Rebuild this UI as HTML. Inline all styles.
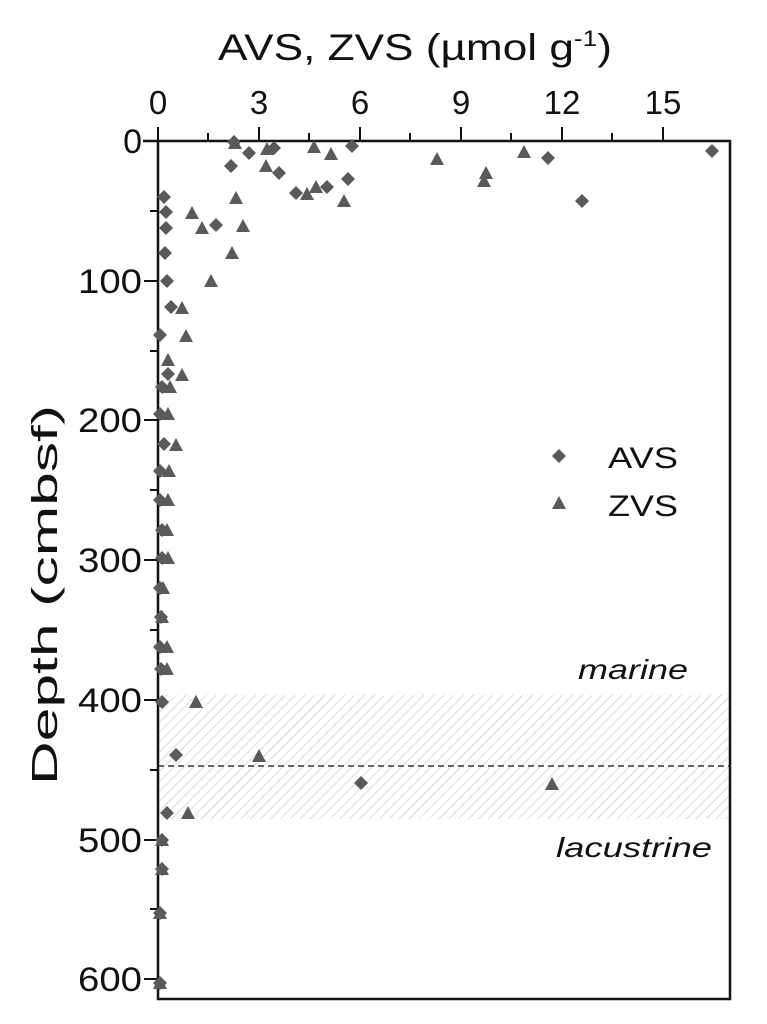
<!DOCTYPE html>
<html><head><meta charset="utf-8"><style>
html,body{margin:0;padding:0;background:#fff;}
svg{display:block;}
text{font-family:"Liberation Sans",sans-serif;fill:#111;}
</style></head><body>
<svg width="767" height="1024" viewBox="0 0 767 1024" xmlns="http://www.w3.org/2000/svg">
<defs>
<pattern id="h" width="7" height="7" patternUnits="userSpaceOnUse" patternTransform="rotate(45)">
<line x1="0" y1="0" x2="0" y2="7" stroke="#c4c4c4" stroke-width="1.2"/>
</pattern>
<path id="D" d="M0,-7 L7,0 L0,7 L-7,0Z" fill="#5a5a5a"/>
<path id="T" d="M0,-7 L7,6 L-7,6Z" fill="#5a5a5a"/>
</defs>
<text x="218" y="60" font-size="37" textLength="394" lengthAdjust="spacingAndGlyphs">AVS, ZVS (µmol g<tspan font-size="22" dy="-14">-1</tspan><tspan dy="14">)</tspan></text>
<g font-size="33" text-anchor="middle">
<text x="158" y="114">0</text><text x="259" y="114">3</text><text x="360" y="114">6</text>
<text x="461" y="114">9</text><text x="562" y="114">12</text><text x="663" y="114">15</text>
</g>
<g font-size="34" text-anchor="end">
<text x="142" y="153">0</text><text x="142" y="293" textLength="64" lengthAdjust="spacingAndGlyphs">100</text>
<text x="142" y="432" textLength="64" lengthAdjust="spacingAndGlyphs">200</text>
<text x="142" y="572" textLength="64" lengthAdjust="spacingAndGlyphs">300</text>
<text x="142" y="712" textLength="64" lengthAdjust="spacingAndGlyphs">400</text>
<text x="142" y="852" textLength="64" lengthAdjust="spacingAndGlyphs">500</text>
<text x="142" y="991" textLength="64" lengthAdjust="spacingAndGlyphs">600</text>
</g>
<text transform="translate(57,785) rotate(-90)" font-size="36" textLength="380" lengthAdjust="spacingAndGlyphs">Depth (cmbsf)</text>
<rect x="158" y="695" width="572" height="124" fill="url(#h)"/>
<line x1="158" y1="766" x2="730" y2="766" stroke="#666" stroke-width="2" stroke-dasharray="6,4"/>
<g stroke="#111" stroke-width="2.5" fill="none">
<path d="M143,141 H730 V999 H158 V141"/>
</g>
<g stroke="#111" stroke-width="2">
<line x1="158" y1="127" x2="158" y2="141"/><line x1="259" y1="127" x2="259" y2="141"/>
<line x1="360" y1="127" x2="360" y2="141"/><line x1="461" y1="127" x2="461" y2="141"/>
<line x1="562" y1="127" x2="562" y2="141"/><line x1="663" y1="127" x2="663" y2="141"/>
<line x1="208" y1="133" x2="208" y2="141"/><line x1="309" y1="133" x2="309" y2="141"/>
<line x1="410" y1="133" x2="410" y2="141"/><line x1="511" y1="133" x2="511" y2="141"/>
<line x1="612" y1="133" x2="612" y2="141"/>
<line x1="144" y1="281" x2="158" y2="281"/><line x1="144" y1="420" x2="158" y2="420"/>
<line x1="144" y1="560" x2="158" y2="560"/><line x1="144" y1="700" x2="158" y2="700"/>
<line x1="144" y1="840" x2="158" y2="840"/><line x1="144" y1="979" x2="158" y2="979"/>
<line x1="150" y1="211" x2="158" y2="211"/><line x1="150" y1="351" x2="158" y2="351"/>
<line x1="150" y1="490" x2="158" y2="490"/><line x1="150" y1="630" x2="158" y2="630"/>
<line x1="150" y1="770" x2="158" y2="770"/><line x1="150" y1="909" x2="158" y2="909"/>
</g>
<g>
<use href="#D" x="234" y="142"/><use href="#D" x="249" y="153"/><use href="#D" x="231" y="166"/>
<use href="#D" x="274" y="148"/><use href="#D" x="279" y="173"/><use href="#D" x="352" y="146"/>
<use href="#D" x="348" y="179"/><use href="#D" x="296" y="193"/><use href="#D" x="327" y="187"/>
<use href="#D" x="548" y="158"/><use href="#D" x="712" y="151"/><use href="#D" x="582" y="201"/>
<use href="#D" x="164" y="197"/><use href="#D" x="166" y="212"/><use href="#D" x="216" y="225"/>
<use href="#D" x="166" y="228"/><use href="#D" x="165" y="253"/><use href="#D" x="167" y="281"/>
<use href="#D" x="171" y="307"/><use href="#D" x="160" y="335"/><use href="#D" x="168" y="374"/>
<use href="#D" x="162" y="387"/><use href="#D" x="160" y="414"/><use href="#D" x="164" y="444"/>
<use href="#D" x="160" y="471"/><use href="#D" x="160" y="500"/><use href="#D" x="162" y="530"/>
<use href="#D" x="162" y="558"/><use href="#D" x="160" y="588"/><use href="#D" x="161" y="617"/>
<use href="#D" x="160" y="647"/><use href="#D" x="161" y="669"/><use href="#D" x="162" y="702"/>
<use href="#D" x="176" y="755"/><use href="#D" x="361" y="783"/><use href="#D" x="167" y="813"/>
<use href="#D" x="162" y="840"/><use href="#D" x="162" y="869"/><use href="#D" x="160" y="913"/>
<use href="#D" x="160" y="983"/>
<use href="#T" x="235" y="143"/><use href="#T" x="267" y="149"/><use href="#T" x="266" y="166"/>
<use href="#T" x="314" y="147"/><use href="#T" x="331" y="154"/><use href="#T" x="307" y="194"/>
<use href="#T" x="316" y="187"/><use href="#T" x="344" y="201"/><use href="#T" x="437" y="159"/>
<use href="#T" x="486" y="173"/><use href="#T" x="484" y="181"/><use href="#T" x="524" y="152"/>
<use href="#T" x="236" y="198"/><use href="#T" x="192" y="213"/><use href="#T" x="202" y="228"/>
<use href="#T" x="243" y="226"/><use href="#T" x="232" y="253"/><use href="#T" x="211" y="281"/>
<use href="#T" x="182" y="308"/><use href="#T" x="186" y="336"/><use href="#T" x="168" y="360"/>
<use href="#T" x="182" y="375"/><use href="#T" x="170" y="387"/><use href="#T" x="168" y="414"/>
<use href="#T" x="176" y="445"/><use href="#T" x="169" y="471"/><use href="#T" x="168" y="500"/>
<use href="#T" x="167" y="530"/><use href="#T" x="168" y="558"/><use href="#T" x="163" y="588"/>
<use href="#T" x="162" y="617"/><use href="#T" x="167" y="647"/><use href="#T" x="167" y="669"/>
<use href="#T" x="196" y="702"/><use href="#T" x="259" y="756"/><use href="#T" x="552" y="784"/>
<use href="#T" x="188" y="813"/><use href="#T" x="162" y="840"/><use href="#T" x="162" y="869"/>
<use href="#T" x="160" y="913"/><use href="#T" x="160" y="983"/>
</g>
<path d="M559,449 L566,456 L559,463 L552,456Z" fill="#5a5a5a"/>
<path d="M559,496 L566,509 L552,509Z" fill="#5a5a5a"/>
<text x="608" y="468" font-size="30" textLength="70" lengthAdjust="spacingAndGlyphs">AVS</text>
<text x="608" y="516" font-size="30" textLength="70" lengthAdjust="spacingAndGlyphs">ZVS</text>
<text x="578" y="679" font-size="28" font-style="italic" textLength="110" lengthAdjust="spacingAndGlyphs">marine</text>
<text x="556" y="857" font-size="28" font-style="italic" textLength="156" lengthAdjust="spacingAndGlyphs">lacustrine</text>
</svg>
</body></html>
